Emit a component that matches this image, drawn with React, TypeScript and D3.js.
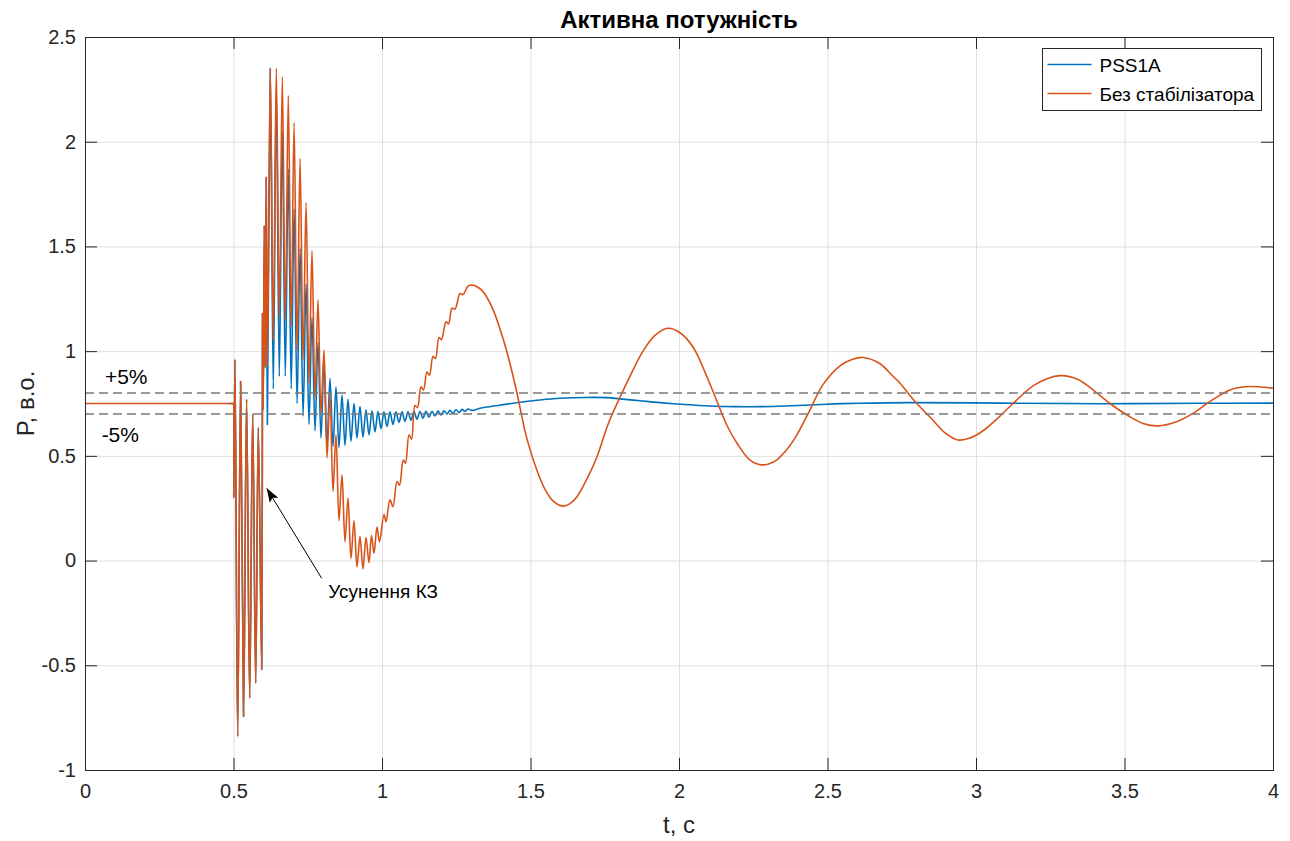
import React, { useEffect, useRef } from "react";
import * as d3 from "d3";

// steady state, fault period and first spikes after clearing, same for both cases
const faultT = [0, 0.1, 0.2, 0.3, 0.4, 0.48, 0.495, 0.4985, 0.4993, 0.501, 0.505, 0.514, 0.524, 0.534, 0.544, 0.5545, 0.5646, 0.5747, 0.5835, 0.595, 0.5976, 0.6, 0.6037, 0.6067, 0.6101];
const faultP = [0.75, 0.75, 0.75, 0.75, 0.75, 0.75, 0.75, 0.75, 0.75, 0.3, 0.96, -0.84, 0.855, -0.745, 0.77, -0.656, 0.7, -0.585, 0.635, -0.52, 1.18, 0.72, 1.6, 0.92, 1.83];

// PSS1A after clearing
const pssT = [
  0.6141, 0.6239, 0.634, 0.6441, 0.6542, 0.6643, 0.6744, 0.6845, 0.6943, 0.704, 0.7141, 0.7242, 0.7343, 0.7444,
  0.7542, 0.7643, 0.7744, 0.7845, 0.7946, 0.8047, 0.8148, 0.8249, 0.835, 0.8451, 0.8552, 0.8653, 0.8754, 0.8855,
  0.8956, 0.9057, 0.9158, 0.9259, 0.936, 0.9461, 0.9562, 0.9663, 0.9764, 0.9865, 0.9966, 1.0067, 1.0168, 1.0269,
  1.037, 1.0471, 1.0572, 1.0673, 1.0774, 1.0875, 1.0976, 1.1077, 1.1178, 1.1279, 1.138, 1.1481, 1.1582, 1.1684,
  1.1785, 1.1886, 1.1987, 1.2088, 1.2189, 1.229, 1.2391, 1.2492, 1.2593, 1.2694, 1.2795, 1.2896, 1.303, 1.33,
  1.3973, 1.4646, 1.532, 1.5993, 1.6835, 1.7576, 1.8013, 1.8687, 1.936, 2.0202, 2.1044, 2.1886, 2.2727, 2.357,
  2.4411, 2.5253, 2.6094, 2.7778, 3.0808, 3.4175, 3.7542, 4.0,
];
const pssP = [
  0.65, 2.35, 0.82, 2.25, 0.88, 2.05, 0.88, 1.87, 0.82, 1.68, 0.75, 1.49, 0.69, 1.32,
  0.65, 1.16, 0.62, 1.04, 0.585, 0.95, 0.545, 0.87, 0.545, 0.83, 0.54, 0.79, 0.55, 0.77,
  0.57, 0.75, 0.585, 0.735, 0.59, 0.72, 0.6, 0.715, 0.615, 0.712, 0.63, 0.71, 0.64, 0.71,
  0.65, 0.71, 0.66, 0.71, 0.665, 0.71, 0.67, 0.712, 0.675, 0.712, 0.68, 0.713, 0.685, 0.713,
  0.69, 0.715, 0.695, 0.715, 0.7, 0.717, 0.703, 0.72, 0.707, 0.722, 0.712, 0.724, 0.717, 0.727,
  0.742, 0.756, 0.767, 0.775, 0.779, 0.778, 0.772, 0.763, 0.754, 0.745, 0.738, 0.735, 0.735, 0.738,
  0.743, 0.748, 0.751, 0.754, 0.752, 0.749, 0.751, 0.752,
];

// without stabilizer after clearing
const noPssT = [
  0.6141, 0.6239, 0.634, 0.6441, 0.6542, 0.6643, 0.6744, 0.6845, 0.6943, 0.704, 0.7141, 0.7242, 0.7343, 0.7444,
  0.7542, 0.7643, 0.7744, 0.7845, 0.7946, 0.8047, 0.8148, 0.8249, 0.835, 0.8451, 0.8552, 0.8653, 0.8754, 0.8855,
  0.8956, 0.9057, 0.9158, 0.9259, 0.936, 0.9461, 0.9562, 0.9646, 0.9731, 0.9832, 0.9916, 1.0067, 1.0135, 1.0269,
  1.037, 1.0505, 1.0589, 1.0717, 1.0791, 1.0909, 1.0993, 1.1111, 1.1195, 1.1313, 1.1397, 1.1515, 1.1599, 1.1717,
  1.1801, 1.1919, 1.2003, 1.2155, 1.2239, 1.2357, 1.2458, 1.2626, 1.2727, 1.2896, 1.303, 1.3165, 1.3367, 1.3704,
  1.4074, 1.431, 1.4545, 1.4882, 1.5219, 1.5488, 1.5758, 1.6094, 1.633, 1.6566, 1.6902, 1.7239, 1.7609, 1.8013,
  1.8418, 1.8788, 1.9192, 1.963, 2.0034, 2.0471, 2.0875, 2.1279, 2.1616, 2.1953, 2.2391, 2.2795, 2.3232, 2.3569,
  2.3906, 2.4343, 2.4848, 2.5421, 2.5825, 2.6195, 2.6768, 2.7205, 2.7441, 2.7946, 2.8552, 2.8956, 2.9394, 2.9798,
  3.0236, 3.0808, 3.1246, 3.1987, 3.2828, 3.3434, 3.3939, 3.4512, 3.5084, 3.5623, 3.6128, 3.67, 3.7306, 3.7879,
  3.8552, 3.9057, 3.9495, 4.0,
];
const noPssP = [
  0.93, 2.35, 1.05, 2.35, 1.165, 2.31, 1.15, 2.22, 1.12, 2.09, 1.005, 1.92, 0.96, 1.71,
  0.85, 1.48, 0.78, 1.245, 0.7, 1.005, 0.49, 0.8, 0.33, 0.6, 0.19, 0.41, 0.09, 0.3,
  0.01, 0.19, -0.03, 0.115, -0.04, 0.11, -0.01, 0.12, 0.035, 0.16, 0.09, 0.22, 0.186, 0.29,
  0.257, 0.377, 0.36, 0.48, 0.465, 0.6, 0.58, 0.74, 0.73, 0.83, 0.815, 0.9, 0.885, 0.975,
  0.965, 1.065, 1.055, 1.14, 1.13, 1.205, 1.2, 1.275, 1.27, 1.31, 1.316, 1.31, 1.29, 1.21,
  1.06, 0.94, 0.8, 0.58, 0.43, 0.34, 0.285, 0.26, 0.272, 0.305, 0.39, 0.496, 0.65, 0.78,
  0.9, 1.0, 1.075, 1.109, 1.088, 1.02, 0.9, 0.76, 0.645, 0.56, 0.48, 0.457, 0.475, 0.52,
  0.585, 0.7, 0.84, 0.93, 0.96, 0.97, 0.94, 0.88, 0.847, 0.76, 0.67, 0.61, 0.576, 0.585,
  0.62, 0.69, 0.75, 0.84, 0.883, 0.865, 0.815, 0.75, 0.695, 0.655, 0.643, 0.66, 0.703, 0.76,
  0.815, 0.83, 0.83, 0.823,
];

const limits = [0.8, 0.7];
const limitLabels = ["+5%", "-5%"];
const xTicks = [0, 0.5, 1, 1.5, 2, 2.5, 3, 3.5, 4];
const yTicks = [-1, -0.5, 0, 0.5, 1, 1.5, 2, 2.5];
const seriesNames = ["PSS1A", "Без стабілізатора"];
const colors = ["#0072BD", "#D95319"];

const W = 1290;
const H = 841;
const margin = { top: 37, right: 17, bottom: 71, left: 85 };
const FONT = "'Liberation Sans', Arial, Helvetica, sans-serif";

const App = () => {
  const svgRef = useRef<SVGSVGElement>(null);

  useEffect(() => {
    const innerW = W - margin.left - margin.right;
    const innerH = H - margin.top - margin.bottom;

    const svg = d3.select(svgRef.current).attr("width", W).attr("height", H);
    svg.selectAll("*").remove();

    svg.append("rect").attr("width", W).attr("height", H).attr("fill", "#fff");

    const defs = svg.append("defs");
    defs
      .append("clipPath")
      .attr("id", "plotClip")
      .append("rect")
      .attr("width", innerW)
      .attr("height", innerH);
    defs
      .append("marker")
      .attr("id", "arrowHead")
      .attr("viewBox", "0 0 14 10")
      .attr("refX", 14)
      .attr("refY", 5)
      .attr("markerWidth", 14)
      .attr("markerHeight", 10)
      .attr("markerUnits", "userSpaceOnUse")
      .attr("orient", "auto")
      .append("path")
      .attr("d", "M0,0 L14,5 L0,10 L3,5 Z")
      .attr("fill", "#000");

    const x = d3.scaleLinear().domain([0, 4]).range([0, innerW]);
    const y = d3.scaleLinear().domain([-1, 2.5]).range([innerH, 0]);

    const g = svg.append("g").attr("transform", `translate(${margin.left},${margin.top})`);

    // grid
    const gridX = g
      .append("g")
      .attr("transform", `translate(0,${innerH})`)
      .call(d3.axisBottom(x).tickValues(xTicks).tickSize(-innerH).tickFormat(() => ""));
    const gridY = g
      .append("g")
      .call(d3.axisLeft(y).tickValues(yTicks).tickSize(-innerW).tickFormat(() => ""));
    [gridX, gridY].forEach((a) => {
      a.select(".domain").remove();
      a.selectAll("line").attr("stroke", "#dfdfdf").attr("stroke-width", 1);
    });

    // series
    const toPts = (ts: number[], ps: number[]) => ts.map((t, i) => [t, ps[i]] as [number, number]);
    // the blue steady-state part lies fully under the orange one, so it starts at the fault
    const pssData = toPts(faultT, faultP).filter((d) => d[0] >= 0.48).concat(toPts(pssT, pssP));
    const noPssData = toPts(faultT, faultP).concat(toPts(noPssT, noPssP));

    const line = d3
      .line<[number, number]>()
      .x((d) => x(d[0]))
      .y((d) => y(d[1]))
      .curve(d3.curveCatmullRom.alpha(0.5));

    const plot = g.append("g").attr("clip-path", "url(#plotClip)");
    [pssData, noPssData].forEach((data, i) => {
      plot
        .append("path")
        .attr("d", line(data))
        .attr("fill", "none")
        .attr("stroke", colors[i])
        .attr("stroke-width", 1.6)
        .attr("stroke-linejoin", "round");
    });

    // ±5% lines
    limits.forEach((v) => {
      plot
        .append("line")
        .attr("x1", 0)
        .attr("x2", innerW)
        .attr("y1", y(v))
        .attr("y2", y(v))
        .attr("stroke", "#7a7a7a")
        .attr("stroke-width", 1.5)
        .attr("stroke-dasharray", "9,5");
    });
    const limitTextPos = [
      [0.067, 0.845],
      [0.056, 0.567],
    ];
    limitLabels.forEach((lbl, i) => {
      g.append("text")
        .attr("x", x(limitTextPos[i][0]))
        .attr("y", y(limitTextPos[i][1]))
        .attr("font-family", FONT)
        .attr("font-size", 21)
        .attr("fill", "#000")
        .text(lbl);
    });

    // annotation
    g.append("line")
      .attr("x1", x(0.797))
      .attr("y1", y(-0.085))
      .attr("x2", x(0.612))
      .attr("y2", y(0.345))
      .attr("stroke", "#000")
      .attr("stroke-width", 1)
      .attr("marker-end", "url(#arrowHead)");
    g.append("text")
      .attr("x", x(0.819))
      .attr("y", y(-0.179))
      .attr("font-family", FONT)
      .attr("font-size", 19)
      .attr("fill", "#000")
      .text("Усунення КЗ");

    // axes with inward ticks on all sides
    const tick = 12;
    const axB = g
      .append("g")
      .attr("transform", `translate(0,${innerH})`)
      .call(d3.axisBottom(x).tickValues(xTicks).tickSize(-tick).tickPadding(14).tickFormat((d) => String(d)));
    const axL = g
      .append("g")
      .call(d3.axisLeft(y).tickValues(yTicks).tickSize(-tick).tickPadding(9).tickFormat((d) => String(d)));
    const axT = g.append("g").call(d3.axisTop(x).tickValues(xTicks).tickSize(-tick).tickFormat(() => ""));
    const axR = g
      .append("g")
      .attr("transform", `translate(${innerW},0)`)
      .call(d3.axisRight(y).tickValues(yTicks).tickSize(-tick).tickFormat(() => ""));
    [axB, axL, axT, axR].forEach((a) => {
      a.select(".domain").attr("stroke", "#262626").attr("stroke-width", 1);
      a.selectAll("line").attr("stroke", "#262626");
      a.selectAll("text").attr("font-family", FONT).attr("font-size", 20).attr("fill", "#262626");
    });

    // title and labels
    svg
      .append("text")
      .attr("x", margin.left + innerW / 2)
      .attr("y", 28)
      .attr("text-anchor", "middle")
      .attr("font-family", FONT)
      .attr("font-size", 24)
      .attr("font-weight", "bold")
      .attr("fill", "#000")
      .text("Активна потужність");
    svg
      .append("text")
      .attr("x", margin.left + innerW / 2)
      .attr("y", 833)
      .attr("text-anchor", "middle")
      .attr("font-family", FONT)
      .attr("font-size", 24)
      .attr("fill", "#262626")
      .text("t, c");
    svg
      .append("text")
      .attr("transform", `translate(34,${margin.top + innerH / 2}) rotate(-90)`)
      .attr("text-anchor", "middle")
      .attr("font-family", FONT)
      .attr("font-size", 24)
      .attr("fill", "#262626")
      .text("P, в.о.");

    // legend
    const lg = svg.append("g").attr("transform", "translate(1042.5,48.5)");
    lg.append("rect")
      .attr("width", 219)
      .attr("height", 62)
      .attr("fill", "#fff")
      .attr("stroke", "#262626")
      .attr("stroke-width", 1);
    seriesNames.forEach((name, i) => {
      const ly = 16 + i * 29;
      lg.append("line")
        .attr("x1", 5)
        .attr("x2", 49)
        .attr("y1", ly)
        .attr("y2", ly)
        .attr("stroke", colors[i])
        .attr("stroke-width", 1.6);
      lg.append("text")
        .attr("x", 57)
        .attr("y", ly + 7)
        .attr("font-family", FONT)
        .attr("font-size", 19)
        .attr("fill", "#000")
        .text(name);
    });
  }, []);

  return <svg ref={svgRef} style={{ position: "absolute", left: 0, top: 0, display: "block" }}></svg>;
};

export default App;
